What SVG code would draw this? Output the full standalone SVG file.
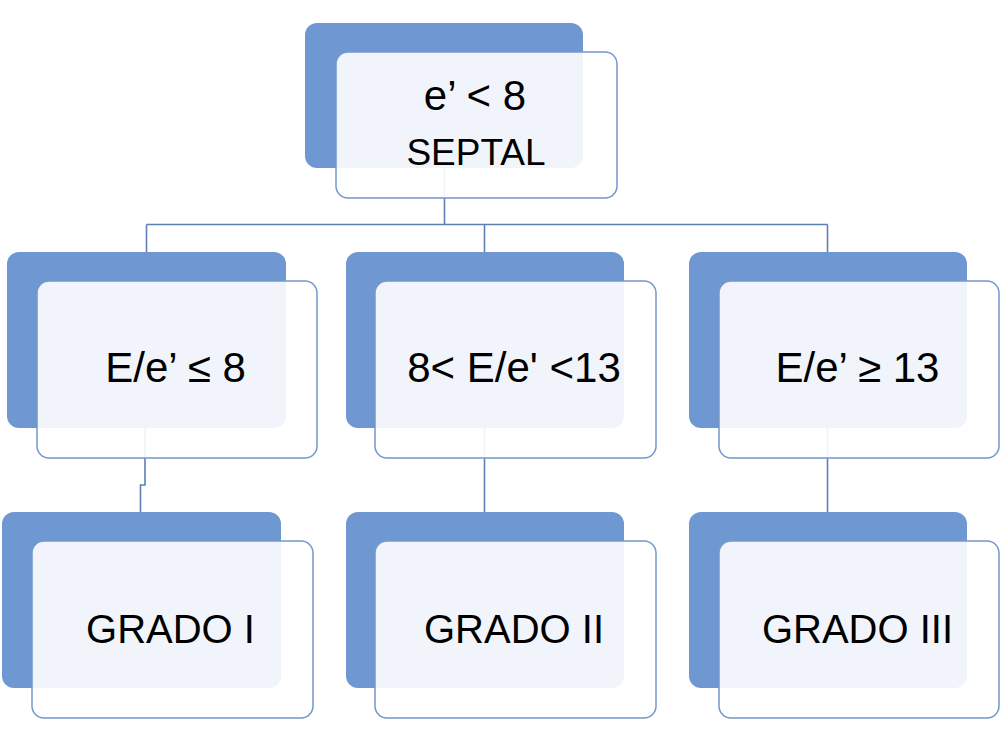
<svg xmlns="http://www.w3.org/2000/svg" width="1000" height="738" viewBox="0 0 1000 738">
<style>
.back{fill:#6F98D2;}
.front{fill:#ffffff;fill-opacity:0.9;stroke:#7498CC;stroke-width:1.5;}
.conn{fill:none;stroke:#5E80B4;stroke-width:1.6;}
.lbl{font-family:"Liberation Sans",Arial,sans-serif;fill:#000;text-anchor:middle;}
</style>
<rect width="1000" height="738" fill="#ffffff"/>
<g id="connectors">
<path class="conn" d="M444.5,168 V224.5"/>
<path class="conn" d="M146.5,224.5 H827.5"/>
<path class="conn" d="M146.5,224.5 V252"/>
<path class="conn" d="M484.5,224.5 V252"/>
<path class="conn" d="M827.5,224.5 V252"/>
<path class="conn" d="M145,428 V485 H140.5 V512"/>
<path class="conn" d="M484.5,428 V512"/>
<path class="conn" d="M827.5,428 V512"/>
</g>
<g id="node-top">
<rect class="back" x="305" y="23" width="278" height="145" rx="12"/>
<rect class="front" x="336" y="52" width="281" height="146" rx="12"/>
<text class="lbl" x="475" y="110" font-size="42">e’ &lt; 8</text>
<text class="lbl" x="476" y="165" font-size="37">SEPTAL</text>
</g>
<g id="node-mid-left">
<rect class="back" x="7" y="252" width="279" height="176" rx="12"/>
<rect class="front" x="37" y="281" width="280" height="177" rx="12"/>
<text class="lbl" x="175.5" y="382" font-size="42">E/e’ ≤ 8</text>
</g>
<g id="node-mid-center">
<rect class="back" x="346" y="252" width="278" height="176" rx="12"/>
<rect class="front" x="375" y="281" width="281" height="177" rx="12"/>
<text class="lbl" x="514" y="382" font-size="42">8&lt; E/e' &lt;13</text>
</g>
<g id="node-mid-right">
<rect class="back" x="689" y="252" width="278" height="176" rx="12"/>
<rect class="front" x="719" y="281" width="280" height="177" rx="12"/>
<text class="lbl" x="857.5" y="382" font-size="42">E/e’ ≥ 13</text>
</g>
<g id="node-bot-left">
<rect class="back" x="2" y="512" width="279" height="176" rx="12"/>
<rect class="front" x="32" y="541" width="281" height="177" rx="12"/>
<text class="lbl" x="170.5" y="643" font-size="40">GRADO I</text>
</g>
<g id="node-bot-center">
<rect class="back" x="346" y="512" width="278" height="176" rx="12"/>
<rect class="front" x="375" y="541" width="281" height="177" rx="12"/>
<text class="lbl" x="514" y="643" font-size="40">GRADO II</text>
</g>
<g id="node-bot-right">
<rect class="back" x="689" y="512" width="278" height="176" rx="12"/>
<rect class="front" x="719" y="541" width="280" height="177" rx="12"/>
<text class="lbl" x="857.5" y="643" font-size="40">GRADO III</text>
</g>
</svg>
